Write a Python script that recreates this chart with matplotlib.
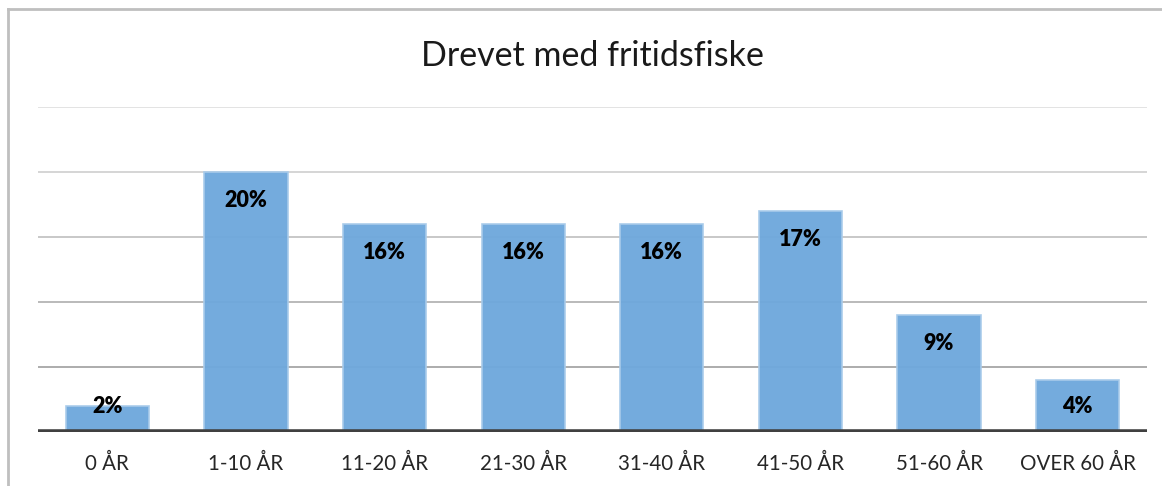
import matplotlib
matplotlib.use("Agg")
import matplotlib.pyplot as plt
from matplotlib.lines import Line2D

plt.rcParams['font.family'] = ['Lato', 'DejaVu Sans']

# data
categories = ['0 ÅR', '1-10 ÅR', '11-20 ÅR', '21-30 ÅR', '31-40 ÅR', '41-50 ÅR', '51-60 ÅR', 'OVER 60 ÅR']
values = [2, 20, 16, 16, 16, 17, 9, 4]
title = 'Drevet med fritidsfiske'

fig = plt.figure(figsize=(11.62, 4.86), dpi=100)
ax = fig.add_axes([38 / 1162, 54 / 486, 1109 / 1162, 325 / 486])

# gridlines, they get darker towards the bottom in the original
grid_cols = {5: '#a6a6a6', 10: '#b4b4b4', 15: '#c4c4c4', 20: '#d2d2d2', 25: '#e0e0e0'}
for g, c in grid_cols.items():
    ax.axhline(g, color=c, lw=1.3, zorder=1)

x = range(len(categories))
ax.bar(x, values, width=0.6, color='#6fa8dc', edgecolor='#a9cbea', linewidth=1.2, alpha=0.97, zorder=2)

for i, v in enumerate(values):
    ax.text(i, max(v - 2.2, 2), f'{v}%', ha='center', va='center',
            fontsize=15.5, fontweight='heavy', color='black', zorder=3)

ax.axhline(0, color='#404040', lw=4, zorder=4)

ax.set_xlim(-0.5, len(categories) - 0.5)
ax.set_ylim(0, 25)
ax.set_yticks([])
ax.set_xticks(list(x))
ax.set_xticklabels(categories, fontsize=14.8, color='#262626')
ax.tick_params(axis='x', length=0, pad=16)
for s in ax.spines.values():
    s.set_visible(False)

fig.text(592 / 1162, 1 - 56 / 486, title, ha='center', va='center', fontsize=24.5, color='#1a1a1a')

# outer chart border (only top and left visible)
fig.add_artist(Line2D([8 / 1162, 1], [1 - 9 / 486, 1 - 9 / 486], color='#bfbfbf', lw=2, transform=fig.transFigure))
fig.add_artist(Line2D([8 / 1162, 8 / 1162], [0, 1 - 9 / 486], color='#bfbfbf', lw=2, transform=fig.transFigure))

fig.savefig('out.png', dpi=100)
